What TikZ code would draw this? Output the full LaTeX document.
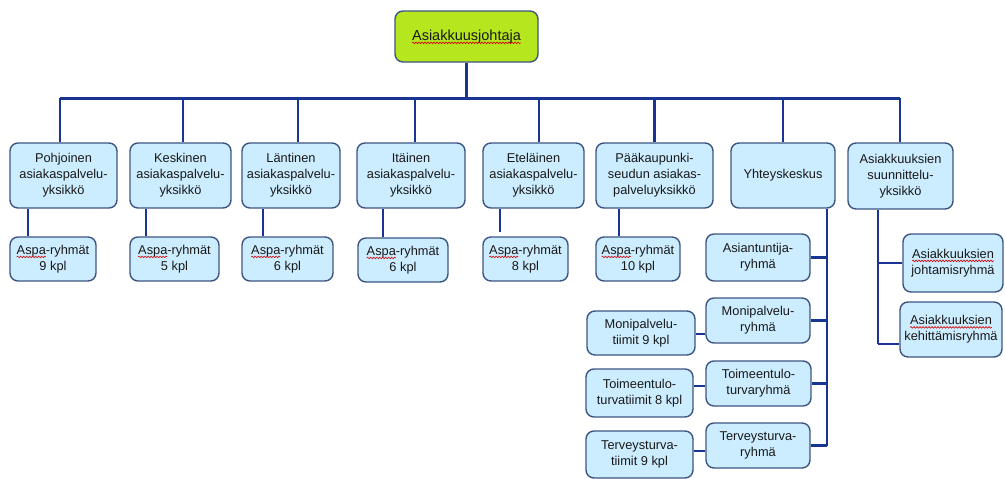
\documentclass[tikz,border=0pt]{standalone}
\usepackage{fontspec}
\usetikzlibrary{decorations.pathmorphing}
\setmainfont{Liberation Sans}
\definecolor{boxfill}{RGB}{204,236,255}
\definecolor{boxdraw}{RGB}{62,84,130}
\definecolor{linecol}{RGB}{24,54,145}
\definecolor{lime}{RGB}{182,230,30}
\newsavebox\wavebox
\newcommand\redwave[1]{\sbox\wavebox{#1}\usebox\wavebox\tikz[overlay,x=1pt,y=1pt,sharp corners]\draw[sharp corners,red!85!black,line width=0.6pt,decorate,decoration={snake,amplitude=0.8pt,segment length=3pt}] (-\wd\wavebox,-2.6pt) -- (0pt,-2.6pt);}
\tikzset{
  box/.style={draw=boxdraw, line width=1.4pt, fill=boxfill, rounded corners=8pt,
    align=center, inner sep=0pt, font=\fontsize{12.8}{16}\selectfont, text=black!90},
  conn/.style={draw=linecol, line width=2.6pt},
}
\begin{document}
\begin{tikzpicture}[x=1pt,y=-1pt]
\useasboundingbox (0,0) rectangle (1005,479);
% top
\node[box, fill=lime, minimum width=143pt, minimum height=51pt, font=\fontsize{14.5}{17}\selectfont] (top) at (466.5,36.5) {\redwave{Asiakkuusjohtaja}};
% level 1
\node[box, minimum width=107pt, minimum height=65pt] (P1) at (63.5,175.5) {Pohjoinen\\asiakaspalvelu-\\yksikkö};
\node[box, minimum width=101pt, minimum height=65pt] (P2) at (180.5,175.5) {Keskinen\\asiakaspalvelu-\\yksikkö};
\node[box, minimum width=98pt, minimum height=65pt] (P3) at (291,175.5) {Läntinen\\asiakaspalvelu-\\yksikkö};
\node[box, minimum width=108pt, minimum height=65pt] (P4) at (411,175.5) {Itäinen\\asiakaspalvelu-\\yksikkö};
\node[box, minimum width=101pt, minimum height=65pt] (P5) at (533.5,175.5) {Eteläinen\\asiakaspalvelu-\\yksikkö};
\node[box, minimum width=117pt, minimum height=65pt] (P6) at (654.5,175.5) {Pääkaupunki-\\seudun asiakas-\\palveluyksikkö};
\node[box, minimum width=104pt, minimum height=65pt] (P7) at (783,175.5) {Yhteyskeskus};
\node[box, minimum width=105pt, minimum height=66pt] (P8) at (900.5,176) {Asiakkuuksien\\suunnittelu-\\yksikkö};
% aspa groups
\node[box, minimum width=86pt, minimum height=44pt] (A1) at (53,259) {\redwave{Aspa}-ryhmät\\9 kpl};
\node[box, minimum width=89pt, minimum height=44pt] (A2) at (174.5,259) {\redwave{Aspa}-ryhmät\\5 kpl};
\node[box, minimum width=91pt, minimum height=44pt] (A3) at (287.5,259) {\redwave{Aspa}-ryhmät\\6 kpl};
\node[box, minimum width=90pt, minimum height=44pt] (A4) at (403,260) {\redwave{Aspa}-ryhmät\\6 kpl};
\node[box, minimum width=85pt, minimum height=44pt] (A5) at (525.5,259) {\redwave{Aspa}-ryhmät\\8 kpl};
\node[box, minimum width=84pt, minimum height=44pt] (A6) at (638,259) {\redwave{Aspa}-ryhmät\\10 kpl};
% Yhteyskeskus groups
\node[box, minimum width=104pt, minimum height=47pt] (Y1) at (758,257.5) {Asiantuntija-\\ryhmä};
\node[box, minimum width=104pt, minimum height=45pt] (Y2) at (758,320.5) {Monipalvelu-\\ryhmä};
\node[box, minimum width=105pt, minimum height=45pt] (Y3) at (758.5,383.5) {Toimeentulo-\\turvaryhmä};
\node[box, minimum width=104pt, minimum height=45pt] (Y4) at (758,445.5) {Terveysturva-\\ryhmä};
\node[box, minimum width=108pt, minimum height=44pt] (T2) at (641,333) {Monipalvelu-\\tiimit 9 kpl};
\node[box, minimum width=107pt, minimum height=48pt] (T3) at (639.5,393) {Toimeentulo-\\turvatiimit 8 kpl};
\node[box, minimum width=107pt, minimum height=47pt] (T4) at (639.5,454.5) {Terveysturva-\\tiimit 9 kpl};
% planning groups
\node[box, minimum width=100pt, minimum height=58pt] (S1) at (953,263) {\redwave{Asiakkuuksien}\\johtamisryhmä};
\node[box, minimum width=102pt, minimum height=55pt] (S2) at (951,329.5) {\redwave{Asiakkuuksien}\\kehittämisryhmä};
% connectors
\draw[conn] (top.south) -- ++(0,35.5) coordinate (bus);
\draw[conn] ([xshift=-3.5pt]P1.north |- bus) -- ([xshift=-0.5pt]P8.north |- bus);
\draw[conn] ([xshift=-3.5pt]P1.north) -- ([xshift=-3.5pt]P1.north |- bus);
\draw[conn] ([xshift=2.5pt]P2.north) -- ([xshift=2.5pt]P2.north |- bus);
\draw[conn] ([xshift=7pt]P3.north) -- ([xshift=7pt]P3.north |- bus);
\draw[conn] ([xshift=4pt]P4.north) -- ([xshift=4pt]P4.north |- bus);
\draw[conn] ([xshift=5.5pt]P5.north) -- ([xshift=5.5pt]P5.north |- bus);
\draw[conn] (P6.north) -- (P6.north |- bus);
\draw[conn] (P7.north) -- (P7.north |- bus);
\draw[conn] ([xshift=-0.5pt]P8.north) -- ([xshift=-0.5pt]P8.north |- bus);
% to aspa
\draw[conn] ([xshift=-25pt]A1.north) -- ([xshift=-25pt]A1.north |- P1.south);
\draw[conn] ([xshift=-28.5pt]A2.north) -- ([xshift=-28.5pt]A2.north |- P2.south);
\draw[conn] ([xshift=-24.5pt]A3.north) -- ([xshift=-24.5pt]A3.north |- P3.south);
\draw[conn] ([xshift=-20pt]A4.north) -- ([xshift=-20pt]A4.north |- P4.south);
\draw[conn] ([xshift=-25.5pt,yshift=4pt]A5.north) -- ([xshift=-25.5pt]A5.north |- P5.south);
\draw[conn] ([xshift=-19pt]A6.north) -- ([xshift=-19pt]A6.north |- P6.south);
% Yhteyskeskus spine
\coordinate (ys) at ([xshift=44pt]P7.south);
\draw[conn] (ys) -- (ys |- Y4.east);
\draw[conn] (Y1.east) -- (Y1.east -| ys);
\draw[conn] (Y2.east) -- (Y2.east -| ys);
\draw[conn] (Y3.east) -- (Y3.east -| ys);
\draw[conn] (Y4.east) -- (Y4.east -| ys);
\draw[conn] ([yshift=-1pt]T2.east) -- ([yshift=-1pt]T2.east -| Y2.west);
\draw[conn] ([yshift=7pt]T3.east) -- ([yshift=7pt]T3.east -| Y3.west);
\draw[conn] ([yshift=3.5pt]T4.east) -- ([yshift=3.5pt]T4.east -| Y4.west);
% planning spine
\coordinate (ss) at ([xshift=-22.5pt]P8.south);
\coordinate (s2j) at ([yshift=-14.5pt]S2.west);
\draw[conn] (ss) -- (ss |- s2j);
\draw[conn] (S1.west) -- (S1.west -| ss);
\draw[conn] (s2j) -- (s2j -| ss);
\end{tikzpicture}
\end{document}
